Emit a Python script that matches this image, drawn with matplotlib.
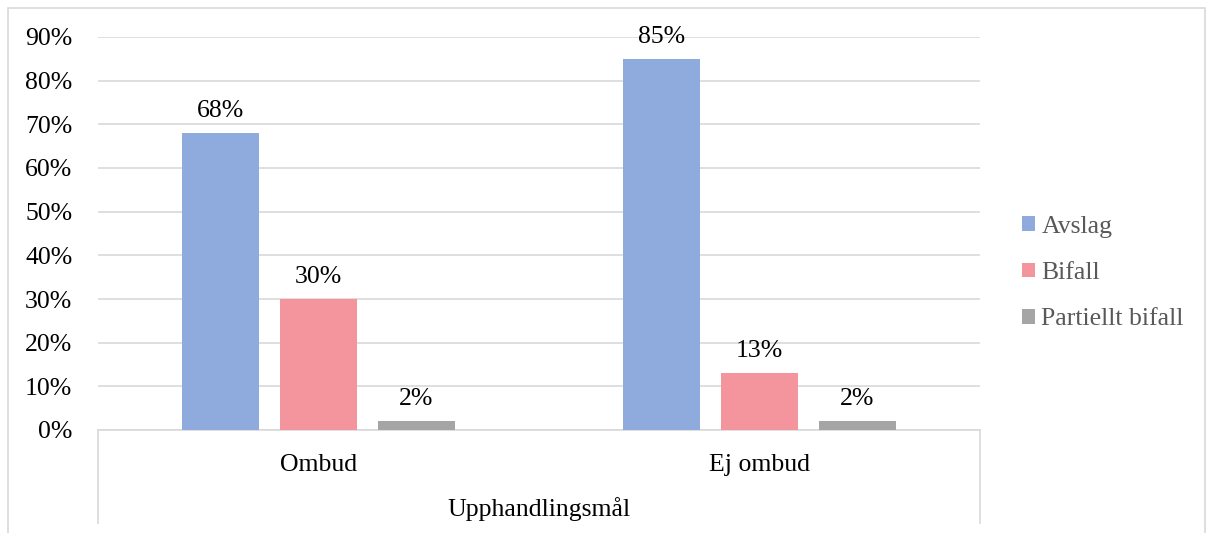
import numpy as np
import matplotlib
matplotlib.use("Agg")
import matplotlib.pyplot as plt
from matplotlib.patches import Rectangle
from matplotlib.lines import Line2D

# Data
kategorier = ["Ombud", "Ej ombud"]
grupp_titel = "Upphandlingsmål"
serier = ["Avslag", "Bifall", "Partiellt bifall"]
avslag = [68, 85]
bifall = [30, 13]
partiellt = [2, 2]
farger = ["#8FAADC", "#F4949C", "#A5A5A5"]

plt.rcParams["font.family"] = ["Liberation Serif", "DejaVu Serif"]
fs = 18.5
plt.rcParams["font.size"] = fs

W, H = 1208, 533
fig = plt.figure(figsize=(W / 100, H / 100), dpi=100)

# plot area in pixels
x0, x1 = 98, 980
y_bot, y_top = 430, 37
ax = fig.add_axes([x0 / W, (H - y_bot) / H, (x1 - x0) / W, (y_bot - y_top) / H])

grid_c = "#D9D9D9"
x = np.arange(len(kategorier))
bredd = 0.1746
steg = 0.222
for i, (namn, vals) in enumerate(zip(serier, [avslag, bifall, partiellt])):
    pos = x + (i - 1) * steg
    ax.bar(pos, vals, width=bredd, color=farger[i], label=namn, zorder=3)
    for p, v in zip(pos, vals):
        ax.annotate(f"{v}%", (p, v), xytext=(0, 11.5), textcoords="offset points",
                    ha="center", va="baseline", fontsize=fs, color="black")

ax.set_xlim(-0.5, 1.5)
ax.set_ylim(0, 90)
ax.set_yticks(np.arange(0, 91, 10))
ax.set_yticklabels([f"{t}%" for t in range(0, 91, 10)])
ax.yaxis.grid(True, color=grid_c, linewidth=1.2, zorder=0)
ax.tick_params(axis="y", length=0, pad=18.5, labelsize=fs)
ax.set_xticks([])
for s in ["top", "right", "left"]:
    ax.spines[s].set_visible(False)
ax.spines["bottom"].set_color(grid_c)
ax.spines["bottom"].set_linewidth(1.2)

# multi-level category axis
for i, k in enumerate(kategorier):
    ax.annotate(k, (i, 0), xycoords=("data", "axes fraction"), xytext=(0, -25),
                textcoords="offset points", ha="center", va="center", fontsize=fs)
ax.annotate(grupp_titel, (0.5, 0), xycoords="axes fraction", xytext=(0, -57),
            textcoords="offset points", ha="center", va="center", fontsize=fs)
for xp in [x0, x1]:
    fig.add_artist(Line2D([xp / W, xp / W], [(H - 430) / H, (H - 523) / H],
                          color=grid_c, linewidth=1.2))

# chart border
fig.add_artist(Rectangle((8 / W, -0.01), (1205 - 8) / W, (H - 8) / H + 0.01,
                         transform=fig.transFigure, fill=False,
                         edgecolor=grid_c, linewidth=1.2))

fig.legend(loc="center left", bbox_to_anchor=(1022 / W, (H - 273) / H),
           frameon=False, fontsize=fs, labelcolor="#595959",
           borderpad=0, borderaxespad=0,
           handlelength=0.5, handleheight=0.5, handletextpad=0.25,
           labelspacing=0.95)

fig.savefig("out.png", dpi=100)
